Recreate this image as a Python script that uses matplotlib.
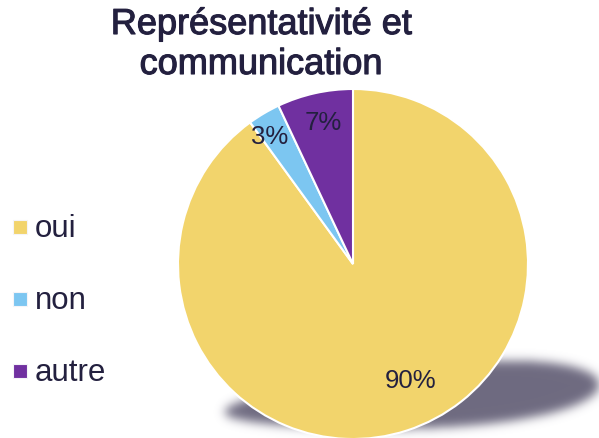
import matplotlib
matplotlib.use("Agg")
import matplotlib.pyplot as plt
from matplotlib.patches import Rectangle
import matplotlib.patheffects as pe
import numpy as np

title_lines = ["Représentativité et", "communication"]
categories = ["oui", "non", "autre"]
values = [90, 3, 7]
colors = ["#F2D46C", "#7CC6F1", "#7030A0"]
text_color = "#23203F"

W, H = 599, 439
plt.rcParams['font.family'] = ['Liberation Sans', 'DejaVu Sans']
fig = plt.figure(figsize=(W / 100, H / 100), dpi=100)

# background axes in pixel coords (y downward)
bg = fig.add_axes([0, 0, 1, 1])
bg.set_xlim(0, W)
bg.set_ylim(H, 0)
bg.axis('off')

# blurred, tapered shadow (decorative)
yy, xx = np.mgrid[0:H, 0:W] + 0.5
ecx, ecy, ea, ang = 412, 399, 188, np.deg2rad(-4.3)
dx, dy = xx - ecx, yy - ecy
u = dx * np.cos(ang) + dy * np.sin(ang)
v = -dx * np.sin(ang) + dy * np.cos(ang)
eb = 30.5 + 0.048 * u
mask = ((u / ea) ** 2 + (v / eb) ** 2 <= 1).astype(float)
sig = 5.0
k = np.arange(-15, 16)
g = np.exp(-k ** 2 / (2 * sig ** 2)); g /= g.sum()
mask = np.apply_along_axis(lambda r: np.convolve(r, g, mode='same'), 1, mask)
mask = np.apply_along_axis(lambda c: np.convolve(c, g, mode='same'), 0, mask)
rgba = np.zeros((H, W, 4))
rgba[..., 0], rgba[..., 1], rgba[..., 2] = 110 / 255, 106 / 255, 128 / 255
rgba[..., 3] = mask
bg.imshow(rgba, extent=(0, W, H, 0), interpolation='bilinear', zorder=0)
bg.set_xlim(0, W)
bg.set_ylim(H, 0)

# pie axes
cx, cy, R = 353, 265, 175
ax = fig.add_axes([(cx - R) / W, (H - cy - R) / H, 2 * R / W, 2 * R / H])
wedges, _ = ax.pie(values, colors=colors, startangle=90, counterclock=False,
                   radius=1, wedgeprops=dict(edgecolor="white", linewidth=1.5))
ax.set_xlim(-1, 1)
ax.set_ylim(-1, 1)
ax.set_aspect('equal')
ax.axis('off')

label_r = [0.74, 0.87, 0.83]
label_dang = [8.2, 2.4, -0.7]
for w, val, r, da in zip(wedges, values, label_r, label_dang):
    mid = np.deg2rad((w.theta1 + w.theta2) / 2 + da)
    ax.text(r * np.cos(mid), r * np.sin(mid), f"{val}%", ha='center', va='center',
            fontsize=18.5, color=text_color)

# title
for i, line in enumerate(title_lines):
    bg.text(261, 35 + 40 * i, line, ha='center', va='baseline', fontsize=26,
            color=text_color,
            path_effects=[pe.withStroke(linewidth=0.8, foreground=text_color)])

# legend
for i, (c, lab) in enumerate(zip(colors, categories)):
    yb = 237 + 72 * i
    bg.add_patch(Rectangle((13, yb - 16), 14, 14, facecolor=c, edgecolor="#f4f4f8", lw=0.8))
    bg.text(35, yb, lab, ha='left', va='baseline', fontsize=22.5, color=text_color)

fig.savefig("out.png", dpi=100)
